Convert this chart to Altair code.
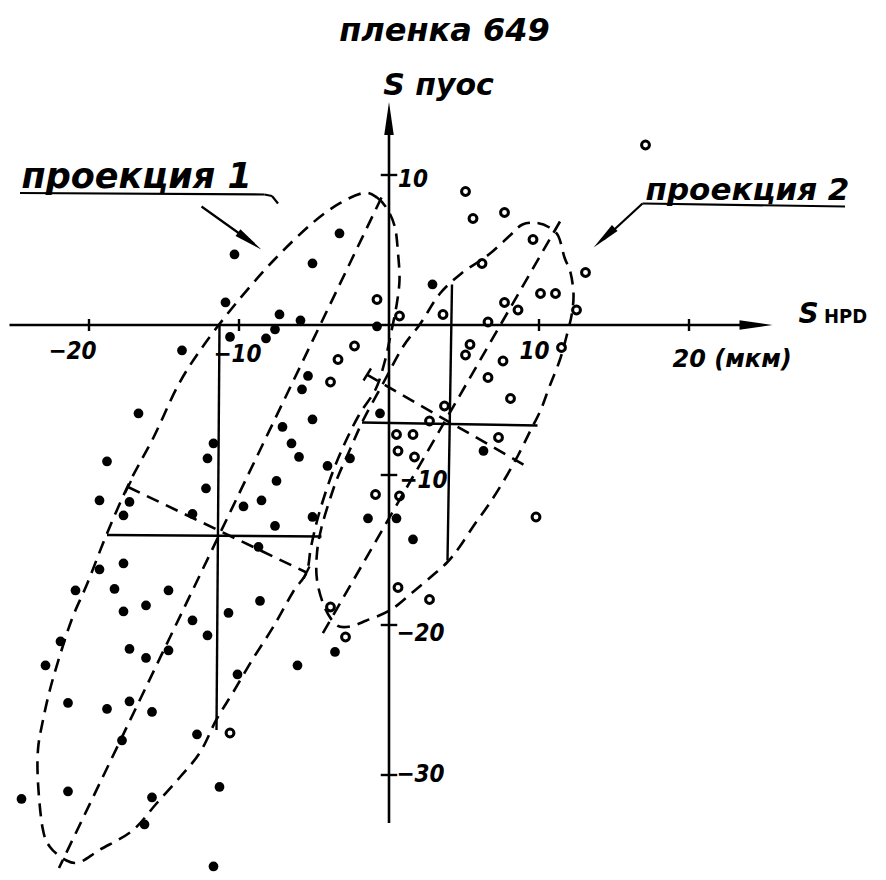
import altair as alt
import pandas as pd

# ---------------- data (units: мкм) ----------------
# filled dots – проекция 1
p1_x = [-10.3, -5.1, -3.3, -10.9, -7.3, -5.9, -7.6, -8.2, -10.6, -13.8, -0.8, 2.9,
        -5.4, -5.8, -16.7, -5.1, -7.1, -6.5, -11.7, -0.6, -18.8, -19.3, -17.3, -17.7,
        -12.1, -12.2, -13.1, -6.0, -4.1, -7.5, -8.5, -9.7, -5.1, -7.6, -8.7, -2.6,
        -1.4, 0.5, 1.6, 6.3, -19.3, -17.7, -20.9, -18.3, -14.7, -17.7, -16.2, -13.1,
        -10.7, -8.6, -12.1, -21.9, -22.9, -17.3, -16.2, -14.7, -10.1, -6.1, -3.6,
        -21.4, -18.8, -17.3, -15.8, -17.8, -12.8, -21.4, -24.5, -15.8, -11.3, -16.3, -11.7]
p1_y = [4.7, 4.1, 6.1, 1.5, 0.7, 0.3, -0.3, -0.9, -0.8, -1.7, -0.1, 2.7,
        -3.4, -4.3, -5.9, -6.3, -6.8, -7.9, -7.9, -5.9, -9.1, -11.7, -11.8, -12.7,
        -8.9, -10.9, -12.6, -8.8, -9.4, -10.4, -11.7, -12.1, -12.8, -13.4, -14.8, -8.9,
        -12.9, -12.9, -14.3, -8.4, -16.3, -15.9, -17.7, -17.6, -17.7, -19.1, -18.7, -19.7,
        -19.2, -18.4, -20.7, -21.1, -22.7, -21.6, -22.2, -21.7, -23.3, -22.7, -21.8,
        -25.2, -25.6, -25.1, -25.8, -27.7, -27.3, -31.1, -31.6, -31.5, -30.8, -33.3, -36.1]

# open circles – проекция 2
p2_x = [17.1, 5.1, 5.6, 7.7, 9.6, 6.2, 13.1, 10.1, 11.1, 7.7, 8.6, 12.5, 6.6, 3.6,
        0.7, -0.8, -2.3, -3.4, -3.9, 5.4, 5.1, 7.6, 6.6, 8.1, 11.5, 3.7, 2.7, 7.3,
        0.5, 1.6, 0.6, 1.7, -0.9, 0.7, 9.8, 0.6, 2.7, -3.9, -2.9, -10.6]
p2_y = [12.0, 8.9, 7.1, 7.5, 5.7, 4.1, 3.5, 2.1, 2.1, 1.5, 1.0, 1.0, 0.2, 0.7,
        0.6, 1.7, -1.4, -2.3, -3.8, -1.3, -2.0, -2.4, -3.5, -4.9, -1.5, -5.4, -6.4, -7.5,
        -7.3, -7.3, -8.4, -8.8, -11.3, -11.4, -12.8, -17.5, -18.3, -18.8, -20.8, -27.2]

# dashed ellipse outlines
e1_x = [-1.7, -0.8, -0.1, 0.4, 0.6, 0.7, 0.5, 0.1, -0.3, -0.9, -2.0, -3.0, -3.9, -4.7,
        -5.2, -5.5, -6.4, -7.7, -9.1, -10.4, -11.5, -12.6, -13.9, -15.5, -17.1, -19.3,
        -20.6, -21.5, -22.6, -23.1, -23.4, -23.4, -23.1, -22.6, -21.9, -21.1, -20.1,
        -18.8, -17.3, -15.7, -14.1, -12.6, -10.4, -7.7, -5.1, -3.3]
e1_y = [8.8, 8.5, 7.7, 6.5, 4.8, 3.0, 1.3, -0.7, -2.5, -4.3, -6.0, -8.0, -10.2, -12.7,
        -14.8, -16.5, -17.8, -20.1, -22.3, -24.5, -26.3, -28.5, -30.1, -31.9, -33.7, -35.0,
        -35.8, -35.7, -34.8, -33.5, -30.5, -28.3, -26.5, -24.3, -21.9, -19.5, -17.2,
        -13.9, -10.5, -7.5, -4.1, -1.7, 1.2, 4.3, 6.8, 8.1]
e2_x = [8.9, 9.9, 10.7, 11.3, 11.7, 12.1, 12.3, 12.2, 11.9, 11.4, 10.7, 10.1, 9.4, 8.6,
        7.7, 6.7, 5.7, 4.7, 3.9, 2.9, 1.6, 0.1, -1.5, -2.6, -3.5, -4.3, -4.8, -4.8,
        -4.5, -3.9, -3.4, -2.6, -1.7, -0.4, 0.9, 2.1, 3.4, 4.9, 6.1, 6.9, 8.1]
e2_y = [6.7, 6.8, 6.5, 5.9, 4.5, 3.5, 2.1, 0.8, -0.5, -2.3, -4.1, -5.7, -7.1, -8.7,
        -10.3, -11.9, -13.3, -14.8, -15.8, -16.7, -17.8, -19.0, -19.7, -20.1, -20.0, -18.8,
        -17.0, -15.2, -13.5, -11.5, -10.1, -8.3, -6.3, -3.9, -1.5, 0.1, 2.1, 3.5, 4.3, 4.9, 6.0]

# dashed principal axes of the ellipses: [x, y, x2, y2]
dashed_axes = [
    [-0.5, 8.5, -22.0, -36.2],    # ellipse 1 major
    [-17.4, -10.8, -5.5, -16.5],  # ellipse 1 minor
    [11.4, 6.9, -4.5, -20.7],     # ellipse 2 major
    [-1.5, -3.3, 9.3, -9.5],      # ellipse 2 minor
]
# short end bars of the minor axes
end_bars = [
    [-17.2, -10.4, -17.6, -11.2],
    [-5.3, -16.1, -5.7, -16.9],
    [-1.2, -2.9, -1.7, -3.7],
]
# solid crosses (means ± spread)
solid_cross = [
    [-18.8, -14.0, -4.5, -14.1],
    [-11.3, 0.0, -11.5, -27.0],
    [-1.8, -6.5, 9.9, -6.7],
    [4.2, 2.7, 3.9, -15.7],
]
# coordinate axes and ticks
axis_lines = [
    [-25.3, 0.0, 23.8, 0.0],
    [0.0, 12.9, 0.0, -33.2],
]
x_ticks = [-20, -10, 10, 20]
y_ticks = [10, -10, -20, -30]

# annotation leader lines
leaders = [
    [-24.6, 8.8, -8.3, 8.7],
    [-8.3, 8.7, -7.8, 8.6],
    [-7.8, 8.6, -7.4, 8.1],
    [-12.5, 7.9, -9.0, 5.4],
    [16.9, 8.1, 30.4, 7.9],
    [16.9, 8.1, 14.3, 5.7],
]

# ---------------- chart geometry ----------------
W, H = 868, 862
PX = 15.0
X0 = -25.4
X1 = X0 + W / PX
Y1 = 21.133
Y0 = Y1 - H / PX

xs = alt.Scale(domain=[X0, X1], nice=False, zero=False)
ys = alt.Scale(domain=[Y0, Y1], nice=False, zero=False)
X = alt.X("x:Q", scale=xs, axis=None)
Y = alt.Y("y:Q", scale=ys, axis=None)


def segs(rows):
    return pd.DataFrame(rows, columns=["x", "y", "x2", "y2"])


def rules(rows, dash=None, width=2.4):
    kw = dict(color="black", strokeWidth=width)
    if dash:
        kw["strokeDash"] = dash
    return alt.Chart(segs(rows)).mark_rule(**kw).encode(
        x=X, y=Y, x2="x2:Q", y2="y2:Q")


def loop(xv, yv):
    df = pd.DataFrame({"x": xv, "y": yv, "o": range(len(xv))})
    return alt.Chart(df).mark_line(
        interpolate="cardinal-closed", color="black", strokeWidth=2.6,
        strokeDash=[13, 8]).encode(x=X, y=Y, order="o:Q")


tick_rows = [[t, -0.4, t, 0.4] for t in x_ticks] + [[-0.55, t, 0.55, t] for t in y_ticks]

layers = [
    loop(e1_x, e1_y),
    loop(e2_x, e2_y),
    rules(dashed_axes, dash=[13, 8], width=2.6),
    rules(end_bars, width=2.4),
    rules(solid_cross),
    rules(axis_lines, width=2.6),
    rules(tick_rows),
    rules(leaders, width=2.2),
]

# arrow heads
heads = pd.DataFrame({
    "x": [24.1, 0.0, -9.55, 14.58],
    "y": [0.0, 13.4, 5.78, 6.03],
    "a": [90, 0, 125.7, 227.4],
    "s": [1450, 1450, 1100, 1100],
})
layers.append(alt.Chart(heads).mark_point(
    shape="wedge", filled=True, color="black", opacity=1, strokeWidth=0).encode(
    x=X, y=Y, angle=alt.Angle("a:Q", scale=None), size=alt.Size("s:Q", scale=None)))

# points
df1 = pd.DataFrame({"x": p1_x, "y": p1_y})
df2 = pd.DataFrame({"x": p2_x, "y": p2_y})
layers.append(alt.Chart(df1).mark_circle(size=95, color="black", opacity=1).encode(x=X, y=Y))
layers.append(alt.Chart(df2).mark_point(
    shape="circle", filled=False, color="black", size=62, strokeWidth=3.0,
    opacity=1).encode(x=X, y=Y))

HAND = "DejaVu Sans"
NUM = "DejaVu Sans Condensed, Liberation Sans Narrow, DejaVu Sans"


def text(rows, size, align="left", weight="normal", style="italic", font=HAND):
    df = pd.DataFrame(rows, columns=["x", "y", "t"])
    return alt.Chart(df).mark_text(
        align=align, baseline="alphabetic", font=font, fontSize=size,
        fontStyle=style, fontWeight=weight, color="black").encode(
        x=X, y=Y, text="t:N")


layers += [
    text([[3.7, 18.95, "пленка 649"]], 32, align="center", weight="bold"),
    text([[3.3, 15.3, "S пуос"]], 30, align="center", weight="bold"),
    text([[27.3, 0.15, "S"]], 28, weight="bold"),
    text([[29.0, 0.15, "HPD"]], 20, weight="bold", style="normal", font=NUM),
    text([[-24.5, 9.1, "проекция 1"]], 35, weight="bold"),
    text([[17.1, 8.3, "проекция 2"]], 31, weight="bold"),
    text([[-21.1, -2.3, "−20"], [-10.1, -2.5, "−10"], [9.7, -2.3, "10"]], 24,
         align="center", weight="bold", font=NUM),
    text([[18.9, -2.8, "20 (мкм)"]], 24, weight="bold", font=HAND),
    text([[0.6, 9.2, "10"], [0.7, -10.9, "−10"], [0.5, -21.1, "−20"], [0.5, -30.5, "−30"]],
         24, weight="bold", font=NUM),
]

chart = alt.layer(*layers).properties(
    width=W, height=H, padding=0, background="white"
).configure_view(stroke=None)

chart.save("out.html", embed_options={"renderer": "svg", "actions": False})
